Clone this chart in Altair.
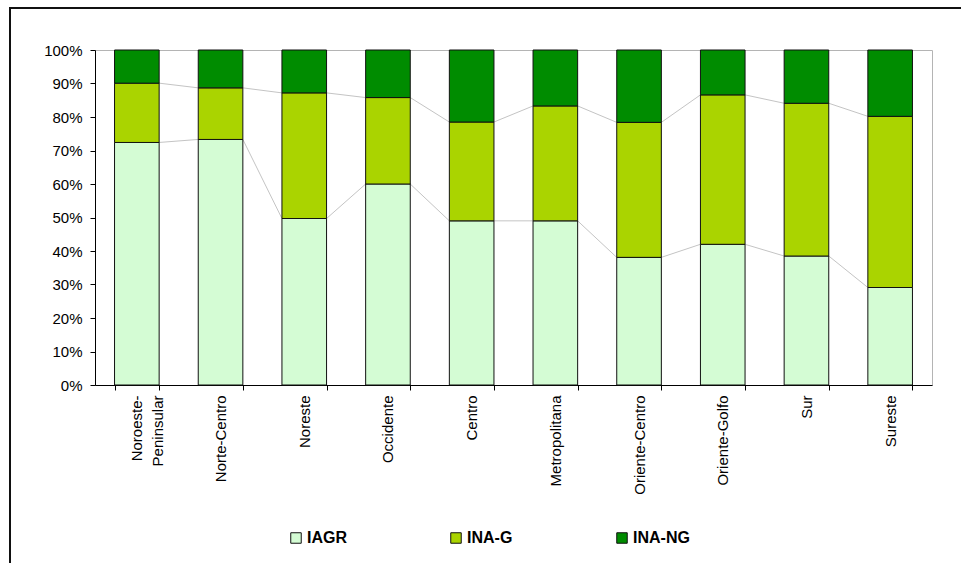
import altair as alt
import pandas as pd

# Regional shares of the three population groups (percent of total)
regions = ["Noroeste-Peninsular", "Norte-Centro", "Noreste", "Occidente", "Centro",
           "Metropolitana", "Oriente-Centro", "Oriente-Golfo", "Sur", "Sureste"]
series = ["IAGR", "INA-G", "INA-NG"]
iagr = [72.4, 73.3, 49.7, 60.0, 49.0, 49.0, 38.1, 42.0, 38.5, 29.1]
ina_g = [17.7, 15.4, 37.5, 25.8, 29.5, 34.3, 40.3, 44.6, 45.6, 51.1]
ina_ng = [9.9, 11.3, 12.8, 14.2, 21.5, 16.7, 21.6, 13.4, 15.9, 19.8]
colors = ["#d4fcd4", "#aad400", "#008c00"]

rows = []
for i, r in enumerate(regions):
    for k, (s, vals) in enumerate(zip(series, [iagr, ina_g, ina_ng])):
        rows.append({"region": r, "series": s, "order": k, "value": vals[i]})
df = pd.DataFrame(rows)

# Series lines joining the tops of the two lower segments of neighbouring bars
tot = [sum(v) for v in zip(iagr, ina_g, ina_ng)]
links = []
for i in range(len(regions) - 1):
    for cum_a, cum_b in [
        (iagr[i] / tot[i], iagr[i + 1] / tot[i + 1]),
        ((iagr[i] + ina_g[i]) / tot[i], (iagr[i + 1] + ina_g[i + 1]) / tot[i + 1]),
    ]:
        links.append({"region": regions[i], "region2": regions[i + 1], "y": cum_a, "y2": cum_b})
links_df = pd.DataFrame(links)

W, H = 837, 335
STEP = W / len(regions)
PAD = 0.467
HALF_BAR = STEP * (1 - PAD) / 2

x_scale = alt.Scale(domain=regions, paddingInner=PAD, paddingOuter=PAD / 2)
x_axis = alt.Axis(
    title=None, labelAngle=-90, labelFont="Liberation Sans", labelFontSize=15,
    labelColor="black", tickColor="black", domainColor="black", tickSize=5,
    labelPadding=5, tickBand="extent", labelLimit=200, labelLineHeight=21,
    labelExpr="datum.label == 'Noroeste-Peninsular' ? ['Noroeste-', 'Peninsular'] : datum.label",
)
y_axis = alt.Axis(
    title=None, format=".0%", values=[i / 10 for i in range(11)], grid=False,
    labelFont="Liberation Sans", labelFontSize=15, labelColor="black",
    tickColor="black", domainColor="black", tickSize=5, labelPadding=8,
)

lines = alt.Chart(links_df).mark_rule(
    color="#c4c4c4", strokeWidth=1, xOffset=HALF_BAR, x2Offset=-HALF_BAR
).encode(
    x=alt.X("region:N", scale=x_scale, sort=regions, axis=x_axis),
    x2="region2",
    y=alt.Y("y:Q", scale=alt.Scale(domain=[0, 1]), axis=y_axis),
    y2="y2",
)

bars = alt.Chart(df).mark_bar(stroke="#111111", strokeWidth=1).encode(
    x=alt.X("region:N", scale=x_scale, sort=regions, axis=x_axis),
    y=alt.Y("value:Q", stack="normalize", scale=alt.Scale(domain=[0, 1]), axis=y_axis),
    color=alt.Color(
        "series:N",
        scale=alt.Scale(domain=series, range=colors),
        legend=alt.Legend(
            title=None, orient="none", legendX=193, legendY=480, direction="horizontal",
            symbolType="square", symbolSize=110, symbolStrokeColor="#111111",
            symbolStrokeWidth=1, labelFont="Liberation Sans",
            labelFontWeight="bold", labelFontSize=16, labelColor="black",
            labelOffset=3, columnPadding=101, padding=0,
        ),
    ),
    order=alt.Order("order:Q"),
)

# Outer frame around the chart
frame_left = alt.Chart(links_df).mark_rule(color="#111111", strokeWidth=2).encode(
    x=alt.value(-85), y=alt.value(-42), y2=alt.value(520)
)
frame_top = alt.Chart(links_df).mark_rule(color="#111111", strokeWidth=2).encode(
    x=alt.value(-86), x2=alt.value(880), y=alt.value(-42)
)

chart = alt.layer(lines, bars, frame_left, frame_top).properties(
    width=W, height=H,
    autosize=alt.AutoSizeParams(type="none"),
    padding={"left": 95, "top": 50, "right": 961 - 95 - W, "bottom": 563 - 50 - H},
    background="white",
).configure_view(stroke="#b4b4b4", strokeWidth=1)

chart.save("out.html", embed_options={"renderer": "svg", "actions": False})
